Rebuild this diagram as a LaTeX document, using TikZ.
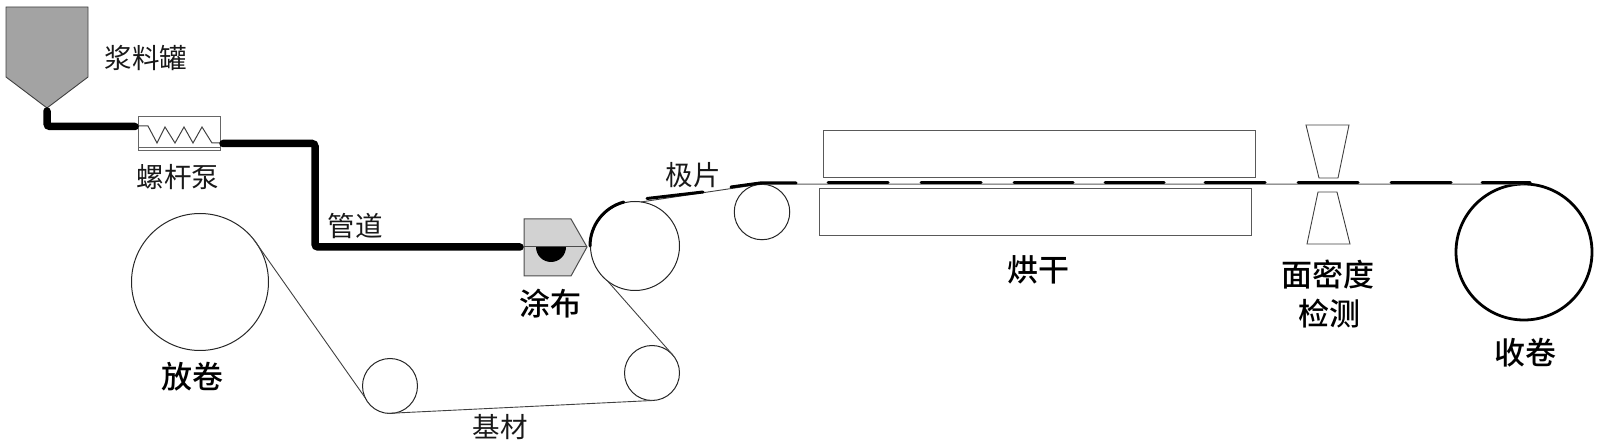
\documentclass[tikz,border=0pt]{standalone}
\usepackage{fontspec}
\setmainfont{Noto Sans CJK SC}
\newfontfamily\cjkb{Noto Sans CJK SC Medium}
\definecolor{tankgray}{HTML}{A3A3A3}
\definecolor{headgray}{HTML}{D2D2D2}
\tikzset{
  thin line/.style={draw=black!75,line width=0.9pt},
  gray line/.style={draw=black!65,line width=1pt},
  pipe/.style={draw=black,line width=7.5pt,rounded corners=3pt,line cap=round},
  film/.style={draw=black,line width=3pt,line cap=round},
  roller/.style={circle,draw=black!85,line width=1pt,inner sep=0pt,outer sep=0pt},
  lab/.style={font=\fontsize{27.5}{29}\selectfont,inner sep=0pt,text=black!90},
  blab/.style={font=\fontsize{31}{33}\selectfont\cjkb,inner sep=0pt,text=black},
}
\begin{document}
\begin{tikzpicture}[x=1pt,y=-1pt]
\useasboundingbox (0,0) rectangle (1599,446);
% rollers
\node[roller,minimum size=137pt] (unwind) at (200,282) {};
\node[roller,minimum size=55pt] (low1) at (390,386) {};
\node[roller,minimum size=55pt] (low2) at (652,373) {};
\node[roller,minimum size=89pt] (big) at (635,246) {};
\node[roller,minimum size=55.5pt] (small) at (762,212) {};
\node[roller,minimum size=136pt,line width=2.8pt,draw=black] (wind) at (1524,252) {};
% tank
\draw[thin line,fill=tankgray] (6,7) -- (88,7) -- (88,77) -- (47,108) -- (6,77) -- cycle;
\coordinate (tanktip) at (47,111);
% pump
\node[draw=black!60,line width=1pt,minimum width=82pt,minimum height=34pt,inner sep=0pt,outer sep=0pt] (pump) at (179,134) {};
\draw[draw=black!60,line width=1pt] (138,148) -- (220,148);
\draw[draw=black!75,line width=1pt] (138,126) -- (148,126) -- (157,143) -- (165,127) -- (175,143) -- (184,127) -- (193,143) -- (202,127) -- (212,143) -- (220,143);
\coordinate (pumpin) at (135,126.5);
\coordinate (pumpout) at (223,143.5);
% coating head
\draw[draw=black!70,line width=1pt,fill=headgray] (524,219) -- (571,219) -- (587,247) -- (571,276) -- (524,276) -- cycle;
\coordinate (headin) at (520,247);
\fill[black] (536,247) arc[start angle=180,end angle=0,radius=15] -- cycle;
\draw[draw=black!70,line width=1pt] (524,247) -- (587,247);
% pipes
\draw[pipe] (tanktip) |- (pumpin);
\draw[pipe] (pumpout) -| (315,247) -- (headin);
% dryer
\draw[gray line] (823,130.5) rectangle (1255,178);
\draw[gray line] (819,188.5) rectangle (1251,236);
% detector
\draw[thin line] (1306,125) -- (1349,125) -- (1338,178) -- (1319,178) -- cycle;
\draw[thin line] (1318,192) -- (1337,192) -- (1350,244) -- (1307,244) -- cycle;
% substrate
\draw[thin line] (unwind.38) -- (low1.205);
\draw[thin line] (low1.265) -- (low2.272);
\draw[thin line] (low2.40) -- (big.232);
\draw[thin line] (big.82) -- (small.100);
\draw[gray line] (small.90) -- (wind.90);
% electrode film
\draw[film] (590,246) arc[start angle=180,end angle=255,radius=45.5];
\draw[film] (647,198.5) -- (703,192);
\draw[film] (731,187) -- (760,183) -- (796,183);
\foreach \a/\b in {828/888,921/981,1014/1073,1105/1164,1205/1265,1298/1358,1391/1451,1482/1530}
  \draw[film] (\a,183) -- (\b,183);
% labels
\node[lab] (l1) at (146,58) {浆料罐};
\node[lab] (l2) at (178,177) {螺杆泵};
\node[lab] (l3) at (355,226) {管道};
\node[blab] (l4) at (550,304) {涂布};
\node[lab] (l5) at (693,175) {极片};
\node[blab] (l6) at (192,377) {放卷};
\node[lab] (l7) at (500,427) {基材};
\node[blab] (l8) at (1038,270) {烘干};
\node[blab] (l9) at (1328,275) {面密度};
\node[blab] (l10) at (1329,314) {检测};
\node[blab] (l11) at (1525,353) {收卷};
\end{tikzpicture}
\end{document}
